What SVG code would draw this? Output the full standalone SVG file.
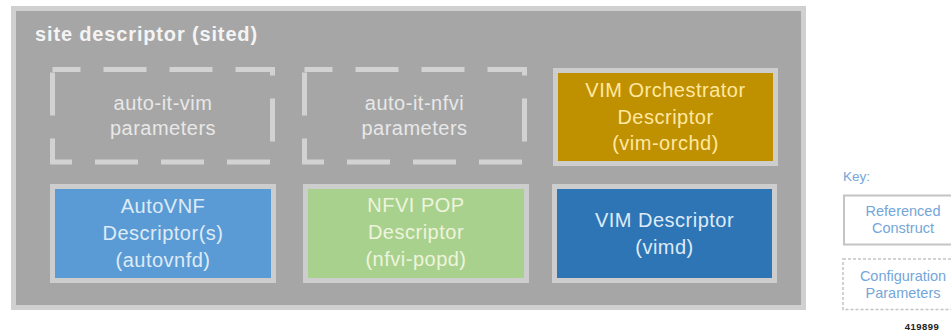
<svg xmlns="http://www.w3.org/2000/svg" width="951" height="332" viewBox="0 0 951 332">
<style>
  text { font-family: "Liberation Sans", Arial, sans-serif; text-anchor: middle; }
  .lbl { font-size: 20px; letter-spacing: 0.5px; }
  .solid { stroke: #cdcdcd; stroke-width: 5; }
  .dash { fill: none; stroke: #d2d2d2; stroke-width: 5; stroke-dasharray: 43 23; stroke-dashoffset: 15; }
  .keytxt { font-size: 14.5px; fill: #74a6d9; }
</style>
<rect width="951" height="332" fill="#ffffff"/>
<g id="sited">
  <rect x="13.5" y="8.5" width="790" height="299" fill="#a6a6a6" stroke="#d0d0d0" stroke-width="5"/>
  <text x="35" y="41" style="text-anchor:start;font-size:20px;font-weight:bold;letter-spacing:0.85px" fill="#f4f4f4">site descriptor (sited)</text>
</g>
<g id="auto-it-vim">
  <rect class="dash" x="52.5" y="69.5" width="220" height="92.5"/>
  <text class="lbl" x="163" y="110" fill="#e8e8e8">auto-it-vim</text>
  <text class="lbl" x="163" y="135" fill="#e8e8e8">parameters</text>
</g>
<g id="auto-it-nfvi">
  <rect class="dash" x="304.5" y="69.5" width="220" height="92.5"/>
  <text class="lbl" x="414.5" y="110" fill="#e8e8e8">auto-it-nfvi</text>
  <text class="lbl" x="414.5" y="135" fill="#e8e8e8">parameters</text>
</g>
<g id="vim-orchd">
  <rect class="solid" x="555.5" y="70.5" width="220" height="93" fill="#bf9000"/>
  <text class="lbl" x="665.5" y="97" fill="#ffe8a0">VIM Orchestrator</text>
  <text class="lbl" x="665.5" y="124" fill="#ffe8a0">Descriptor</text>
  <text class="lbl" x="665.5" y="150" fill="#ffe8a0">(vim-orchd)</text>
</g>
<g id="autovnfd">
  <rect class="solid" x="52.5" y="186.5" width="221" height="94" fill="#5b9bd5"/>
  <text class="lbl" x="163" y="212.5" fill="#deebf7">AutoVNF</text>
  <text class="lbl" x="163" y="240" fill="#deebf7">Descriptor(s)</text>
  <text class="lbl" x="163" y="267" fill="#deebf7">(autovnfd)</text>
</g>
<g id="nfvi-popd">
  <rect class="solid" x="305.5" y="186.5" width="221" height="94" fill="#a9d18e"/>
  <text class="lbl" x="416" y="212" fill="#eef4dc">NFVI POP</text>
  <text class="lbl" x="416" y="239" fill="#eef4dc">Descriptor</text>
  <text class="lbl" x="416" y="266" fill="#eef4dc">(nfvi-popd)</text>
</g>
<g id="vimd">
  <rect class="solid" x="554.5" y="186.5" width="220" height="94" fill="#2e75b6"/>
  <text class="lbl" x="664.5" y="227" fill="#deebf7">VIM Descriptor</text>
  <text class="lbl" x="664.5" y="253.5" fill="#deebf7">(vimd)</text>
</g>
<g id="key">
  <text class="keytxt" x="843" y="181" style="text-anchor:start;font-size:13.5px">Key:</text>
  <g id="key-referenced">
    <rect x="844" y="195.5" width="120" height="49" fill="#ffffff" stroke="#c4c4c4" stroke-width="2"/>
    <text class="keytxt" x="903" y="216">Referenced</text>
    <text class="keytxt" x="903" y="233">Construct</text>
  </g>
  <g id="key-config">
    <rect x="843" y="259" width="120" height="50.5" fill="#ffffff" stroke="#c4c4c4" stroke-width="1.5" stroke-dasharray="3 2"/>
    <text class="keytxt" x="903" y="281">Configuration</text>
    <text class="keytxt" x="903" y="298">Parameters</text>
  </g>
</g>
<g id="connectors"></g>
<text x="922" y="330" style="font-size:9.5px;font-weight:bold;letter-spacing:0.5px" fill="#222222">419899</text>
</svg>
